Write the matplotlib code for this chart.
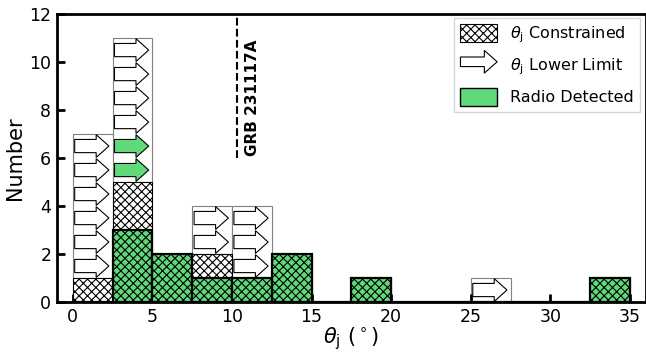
import numpy as np
import matplotlib as mpl
mpl.use('Agg')
import matplotlib.pyplot as plt
from matplotlib.patches import FancyArrow, Patch
from matplotlib.legend_handler import HandlerPatch

#------------------ Data ----------------------
bin_edges = np.arange(0, 35.1, 2.5)
# counts per 2.5 deg bin
constrained = [1, 5, 2, 2, 1, 2, 0, 1, 0, 0, 0, 0, 0, 1]
radio_constrained = [0, 3, 2, 1, 1, 2, 0, 1, 0, 0, 0, 0, 0, 1]
lower_limit = [6, 6, 0, 2, 3, 0, 0, 0, 0, 0, 1, 0, 0, 0]
radio_lower_limit = [0, 2, 0, 0, 0, 0, 0, 0, 0, 0, 0, 0, 0, 0]
grb_theta = 10.3
grb_name = 'GRB 231117A'

green = '#60d97a'
plt.rcParams['font.family'] = 'DejaVu Sans'
plt.rcParams['hatch.linewidth'] = 0.8

#------------------ Figure Setup ----------------------
fig, ax = plt.subplots(figsize=(6.46, 3.52), dpi=100)
fig.subplots_adjust(left=0.088, right=1.0, bottom=0.142, top=0.96)

left = bin_edges[:-1]
width = 2.5
constrained = np.array(constrained)
radio_constrained = np.array(radio_constrained)
lower_limit = np.array(lower_limit)
radio_lower_limit = np.array(radio_lower_limit)

# lower limit boxes on top of constrained
ax.bar(left, lower_limit, width=width, bottom=constrained, align='edge',
       color='white', edgecolor='gray', lw=0.8, zorder=1)
# constrained (hatched)
ax.bar(left, constrained, width=width, align='edge', color='white',
       edgecolor='black', hatch='xxxx', lw=0.8, zorder=2)
# radio detected constrained
ax.bar(left, radio_constrained, width=width, align='edge', color=green,
       edgecolor='black', hatch='xxxx', lw=1.6, zorder=3)

# arrows for lower limits
for i in range(len(left)):
    for k in range(lower_limit[i]):
        y = constrained[i] + k + 0.5
        fc = green if k < radio_lower_limit[i] else 'white'
        arr = FancyArrow(left[i] + 0.12, y, width - 0.35, 0, width=0.55,
                         head_width=0.95, head_length=0.8,
                         length_includes_head=True, fc=fc, ec='black',
                         lw=0.8, zorder=4)
        ax.add_patch(arr)

# GRB line
ax.plot([grb_theta, grb_theta], [6, 12], 'k--', lw=1.5, zorder=5)
ax.text(grb_theta + 0.5, 6.1, grb_name, rotation=90, fontsize=11,
        fontweight='bold', ha='left', va='bottom')

#Limit / ticks
ax.set_xlim(-1, 36)
ax.set_ylim(0, 12)
ax.set_xticks(np.arange(0, 36, 5))
ax.set_yticks(np.arange(0, 13, 2))
ax.tick_params(direction='in', length=6, width=2, labelsize=12.5,
               top=False, right=False, pad=4)
for sp in ax.spines.values():
    sp.set_linewidth(2)

ax.set_xlabel(r'$\theta_{\rm j}$ ($^\circ$)', fontsize=15, labelpad=0)
ax.set_ylabel('Number', fontsize=15, labelpad=3)


# legend with arrow handle
class HandlerArrow(HandlerPatch):
    def create_artists(self, legend, orig_handle, xdescent, ydescent,
                       width, height, fontsize, trans):
        p = FancyArrow(0, height / 2, width, 0, width=height * 0.55,
                       head_width=height * 1.3, head_length=width * 0.35,
                       length_includes_head=True, fc='white', ec='black',
                       lw=0.8)
        p.set_transform(trans)
        return [p]


h1 = Patch(fc='white', ec='black', hatch='xxxx', lw=0.8)
h2 = FancyArrow(0, 0, 1, 0)
h3 = Patch(fc=green, ec='black', lw=1.0)
ax.legend([h1, h2, h3],
          [r'$\theta_{\rm j}$ Constrained', r'$\theta_{\rm j}$ Lower Limit',
           'Radio Detected'],
          handler_map={FancyArrow: HandlerArrow()},
          loc='upper right', fontsize=11.5, fancybox=False,
          handlelength=2.3, handleheight=1.3, labelspacing=0.7,
          borderaxespad=0, bbox_to_anchor=(0.99, 0.986))

plt.savefig('out.png', dpi=100)
